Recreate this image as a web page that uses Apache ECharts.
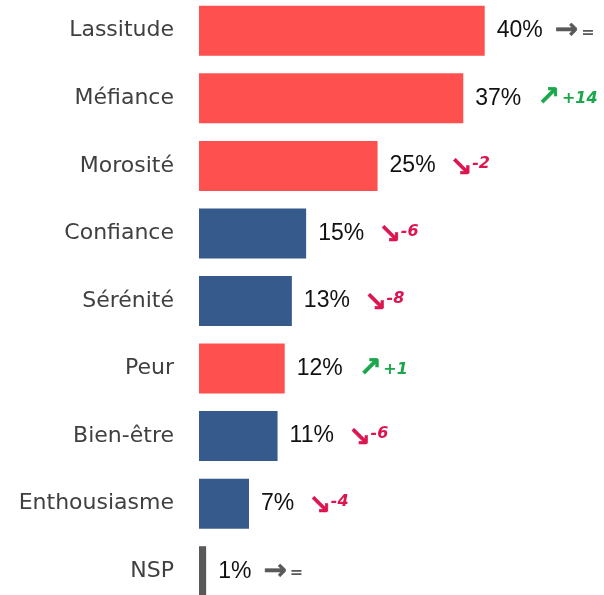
<!DOCTYPE html>
<html>
<head>
<meta charset="utf-8">
<script src="https://cdn.jsdelivr.net/npm/echarts@6/dist/echarts.min.js"></script>
<style>
  html, body { margin: 0; padding: 0; background: #fff; }
  #chart { width: 604px; height: 595px; }
</style>
</head>
<body>
<div id="chart"></div>
<script>
// categories, top to bottom
var categories = ['Lassitude', 'Méfiance', 'Morosité', 'Confiance', 'Sérénité', 'Peur', 'Bien-être', 'Enthousiasme', 'NSP'];
// share of answers, %
var values = [40, 37, 25, 15, 13, 12, 11, 7, 1];
// emotion tone: neg = red, pos = blue, nsp = grey
var tones = ['neg', 'neg', 'neg', 'pos', 'pos', 'neg', 'pos', 'pos', 'nsp'];
// change vs previous wave
var trends = ['=', '+14', '-2', '-6', '-8', '+1', '-6', '-4', '='];

var toneColor = { neg: '#FF5050', pos: '#375A8C', nsp: '#595959' };

var chart = echarts.init(document.getElementById('chart'));

var data = values.map(function (v, i) {
    return {
        value: v,
        itemStyle: { color: toneColor[tones[i]] }
    };
});

function trendKind(t) {
    if (t.charAt(0) === '+') return 'up';
    if (t.charAt(0) === '-') return 'down';
    return 'eq';
}

// arrow + delta text styles
function arrowStyle(color, size, pad) {
    return {
        fontFamily: 'DejaVu Sans', fontWeight: 'bold', fontSize: size, color: color,
        textBorderColor: color, textBorderWidth: 0.5, padding: pad
    };
}
function deltaStyle(color, pad) {
    return {
        fontFamily: 'DejaVu Sans', fontWeight: 'bold', fontStyle: 'italic', fontSize: 16,
        color: color, padding: pad
    };
}

var option = {
    animation: false,
    backgroundColor: '#fff',
    grid: {
        left: 199,
        right: 5,
        top: -3,
        bottom: -10,
        outerBoundsMode: 'none'
    },
    xAxis: {
        type: 'value',
        min: 0,
        max: 56,
        show: false
    },
    yAxis: {
        type: 'category',
        inverse: true,
        data: categories,
        axisLine: { show: false },
        axisTick: { show: false },
        axisLabel: {
            margin: 25,
            color: '#404040',
            fontFamily: 'DejaVu Sans',
            fontSize: 22
        }
    },
    series: [{
        type: 'bar',
        data: data,
        barWidth: 50,
        label: {
            show: true,
            position: 'right',
            distance: 12,
            formatter: function (p) {
                var t = trends[p.dataIndex];
                var k = trendKind(t);
                var arrow = k === 'up' ? '↗' : (k === 'down' ? '↘' : '→');
                return '{v|' + p.value + '%}{a' + k + '|' + arrow + '}{d' + k + '|' + t + '}';
            },
            rich: {
                v: { fontFamily: 'Liberation Sans', fontSize: 23, color: '#111' },
                aeq: arrowStyle('#595959', 28, [0, 3, 0, 12]),
                deq: deltaStyle('#595959', [4, 0, 0, 0]),
                aup: arrowStyle('#1AA64B', 27, [0, 2, 0, 16]),
                dup: deltaStyle('#1AA64B', [2, 0, 0, 0]),
                adown: arrowStyle('#DC1450', 27, [6, 0, 0, 14]),
                ddown: deltaStyle('#DC1450', [0, 0, 4, 0])
            }
        }
    }]
};

chart.setOption(option);
</script>
</body>
</html>
